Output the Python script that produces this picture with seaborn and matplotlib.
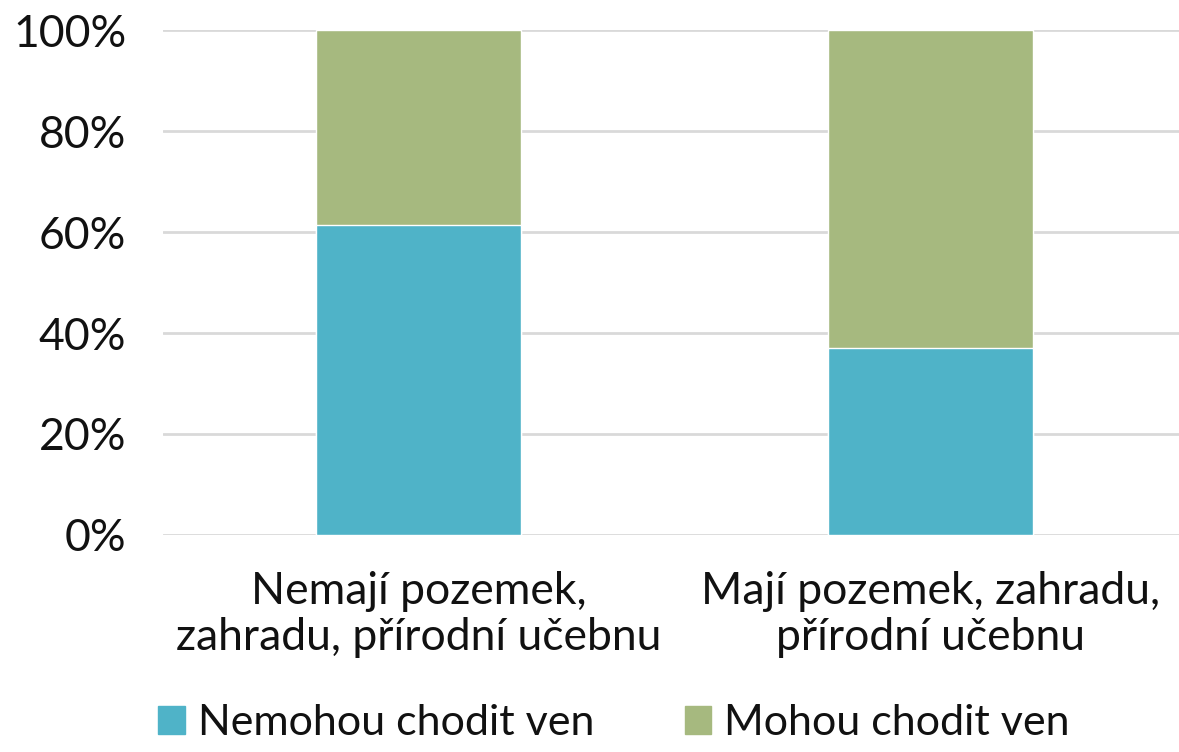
import pandas as pd
import numpy as np
import seaborn as sns
import matplotlib.pyplot as plt
from matplotlib.patches import Patch

categories = ['Nemají pozemek,\nzahradu, přírodní učebnu', 'Mají pozemek, zahradu,\npřírodní učebnu']
nemohou = [61.4, 37.0]
mohou = [38.6, 63.0]
series_names = ['Nemohou chodit ven', 'Mohou chodit ven']
colors = ['#4fb3c8', '#a6b97f']

df = pd.DataFrame({'kategorie': categories, 'nemohou': nemohou, 'mohou': mohou})
df['celkem'] = df['nemohou'] + df['mohou']

sns.set_theme(style='white')
plt.rcParams['font.family'] = ['Lato', 'DejaVu Sans']
plt.rcParams['text.color'] = '#111111'
plt.rcParams['xtick.color'] = '#111111'
plt.rcParams['ytick.color'] = '#111111'

fig = plt.figure(figsize=(11.79, 7.52), dpi=100)
ax = fig.add_axes([162.5 / 1179, 0.2886, 1024 / 1179, 0.6714])

# total first (green), then the bottom part on top of it (blue)
sns.barplot(x='kategorie', y='celkem', data=df, color=colors[1], width=0.4, ax=ax, saturation=1)
sns.barplot(x='kategorie', y='nemohou', data=df, color=colors[0], width=0.4, ax=ax, saturation=1)

ax.set_ylim(0, 100)
ax.set_yticks(np.arange(0, 101, 20))
ax.set_yticklabels([f'{v}%' for v in range(0, 101, 20)], fontsize=32)
ax.set_xticklabels(categories, fontsize=32, linespacing=1.15)
ax.set_xlabel('')
ax.set_ylabel('')
ax.tick_params(axis='y', pad=26, length=0)
ax.tick_params(axis='x', pad=26, length=0)
ax.yaxis.grid(True, color='#d9d9d9', linewidth=2)
ax.set_axisbelow(True)
for s in ax.spines.values():
    s.set_visible(False)

handles = [Patch(color=colors[0], label=series_names[0]), Patch(color=colors[1], label=series_names[1])]
fig.legend(handles=handles, loc='upper left', bbox_to_anchor=(158 / 1179, 1 - 704 / 752), ncol=2, frameon=False,
           fontsize=31, handlelength=0.62, handleheight=0.62, handletextpad=0.3, columnspacing=2.1,
           borderaxespad=0, borderpad=0)

fig.savefig('out.png', dpi=100)
